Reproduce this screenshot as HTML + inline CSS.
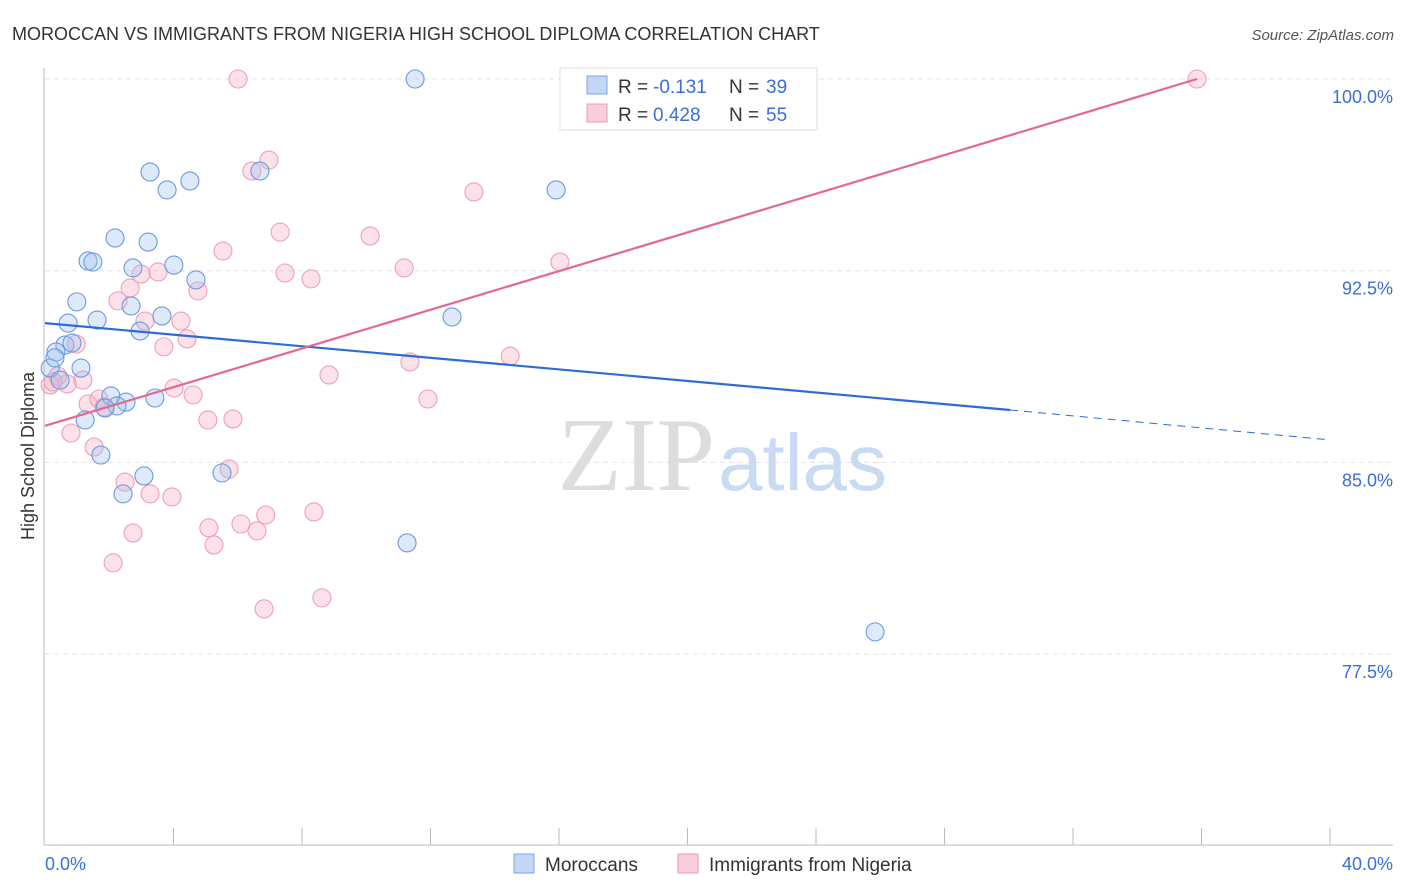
<!DOCTYPE html>
<html><head><meta charset="utf-8"><style>
body{margin:0;background:#fff;font-family:"Liberation Sans",sans-serif;}
svg{display:block}
</style></head><body>
<svg width="1406" height="892">
<text x="12" y="40" font-size="18" fill="#333">MOROCCAN VS IMMIGRANTS FROM NIGERIA HIGH SCHOOL DIPLOMA CORRELATION CHART</text>
<text x="1394" y="40" font-size="15" fill="#555" font-style="italic" text-anchor="end">Source: ZipAtlas.com</text>
<g id="grid"></g>
<text x="715" y="490" font-size="105" fill="#ddd" text-anchor="end" font-family="Liberation Serif">ZIP</text>
<text x="718" y="490" font-size="80" fill="#c9daf3">atlas</text>
<line x1="44" y1="68" x2="44" y2="845" stroke="#bbb"/>
<line x1="44" y1="845" x2="1393" y2="845" stroke="#bbb"/>
<text transform="translate(34,456) rotate(-90)" font-size="18" fill="#333" text-anchor="middle">High School Diploma</text>
<g id="ticks"></g>
<g id="pts"></g>
<g id="lines"></g>
<g>
<rect x="560" y="68" width="257" height="62" fill="#fff" stroke="#ddd"/>
<rect x="587" y="76" width="20" height="18" fill="#c3d7f5" stroke="#7aa6e6"/>
<text y="93" font-size="19" fill="#333"><tspan x="618">R =</tspan><tspan x="653" fill="#3a6fd8">-0.131</tspan><tspan x="729">N =</tspan><tspan x="766" fill="#3a6fd8">39</tspan></text>
<rect x="587" y="104" width="20" height="18" fill="#f9cdd9" stroke="#ec9ab3"/>
<text y="121" font-size="19" fill="#333"><tspan x="618">R =</tspan><tspan x="653" fill="#3a6fd8">0.428</tspan><tspan x="729">N =</tspan><tspan x="766" fill="#3a6fd8">55</tspan></text>
</g>
<g>
<rect x="514" y="854" width="20" height="19" fill="#c3d7f5" stroke="#7aa6e6"/>
<text x="545" y="871" font-size="19" fill="#333">Moroccans</text>
<rect x="678" y="854" width="20" height="19" fill="#f9cdd9" stroke="#ec9ab3"/>
<text x="709" y="871" font-size="19" fill="#333">Immigrants from Nigeria</text>
</g>
</svg>
<script>
const blueX=[11.52,3.27,4.51,3.80,6.69,15.91,2.18,3.21,1.34,1.49,2.74,4.01,4.70,0.99,2.68,1.62,0.72,3.64,2.96,12.67,0.62,0.84,0.34,1.12,0.16,2.05,2.52,2.24,3.42,1.25,1.74,3.08,2.43,5.51,11.27,25.84,0.47,0.31,1.87];
const blueY=[100,96.36,96.01,95.66,96.40,95.66,93.78,93.62,92.88,92.84,92.61,92.72,92.14,91.28,91.12,90.57,90.45,90.73,90.14,90.69,89.59,89.67,89.32,88.69,88.69,87.60,87.36,87.21,87.52,86.66,85.29,84.47,83.77,84.59,81.85,78.37,88.22,89.09,87.13];
const pinkX=[6.01,16.65,35.86,6.97,6.44,13.35,5.54,7.32,10.12,16.03,11.18,2.99,3.52,7.47,8.28,2.65,4.76,2.27,3.11,4.23,4.42,3.70,0.97,14.48,11.36,8.84,0.40,1.18,0.69,0.16,4.02,4.61,11.92,1.34,1.84,1.68,0.81,5.07,5.85,1.53,5.73,2.49,3.27,3.95,5.10,6.10,6.87,8.37,6.60,2.74,5.26,2.12,6.82,8.62,0.25];
const pinkY=[100,100,100,96.83,96.40,95.58,93.27,94.01,93.86,92.84,92.61,92.37,92.45,92.41,92.18,91.82,91.71,91.32,90.53,90.53,89.83,89.52,89.63,89.16,88.93,88.42,88.38,88.22,88.07,88.03,87.91,87.64,87.48,87.29,87.17,87.48,86.15,86.66,86.70,85.60,84.74,84.23,83.77,83.65,82.44,82.59,82.94,83.06,82.32,82.24,81.77,81.07,79.27,79.70,88.15];
const yTicks=[100,92.5,85,77.5];
const yTickLabels=["100.0%","92.5%","85.0%","77.5%"];
const xTicks=[0,4,8,12,16,20,24,28,32,36,40];
const blueTrend=[[0,90.45],[30.04,87.05],[40,85.88]];
const pinkTrend=[[0,86.43],[35.86,100]];
const NS='http://www.w3.org/2000/svg';
const sx=v=>45+v*1285/40, sy=v=>79+(100-v)*191.7/7.5;
function mk(tag,attrs,parent){const e=document.createElementNS(NS,tag);for(const k in attrs)e.setAttribute(k,attrs[k]);document.getElementById(parent).appendChild(e);return e;}
yTicks.forEach((t,i)=>{
 const g=mk('line',{x1:45,x2:1393,y1:sy(t),y2:sy(t),stroke:'#e3e3e3','stroke-dasharray':'5,4'},'grid');
 
 
 const l=mk('text',{x:1393,y:sy(t)+24,'font-size':18,fill:'#3a6fd8','text-anchor':'end'},'ticks');
 l.textContent=yTickLabels[i];
 
 
});
xTicks.forEach((t,i)=>{
 if(i>0){const tk=mk('line',{x1:sx(t),x2:sx(t),y1:828,y2:845,stroke:'#bbb'},'ticks');
 
 }
});
const xl0=mk('text',{x:45,y:870,'font-size':18,fill:'#3a6fd8'},'ticks');xl0.textContent='0.0%';


const xl1=mk('text',{x:1393,y:870,'font-size':18,fill:'#3a6fd8','text-anchor':'end'},'ticks');xl1.textContent='40.0%';


pinkX.forEach((x,i)=>{const c=mk('circle',{cx:sx(x),cy:sy(pinkY[i]),r:9,fill:'rgba(246,170,192,0.35)',stroke:'#eda0b8','stroke-width':1.1},'pts');
 
 });
blueX.forEach((x,i)=>{const c=mk('circle',{cx:sx(x),cy:sy(blueY[i]),r:9,fill:'rgba(160,195,240,0.35)',stroke:'#6a9ae0','stroke-width':1.1},'pts');
 
 });
const b1=mk('line',{x1:sx(blueTrend[0][0]),y1:sy(blueTrend[0][1]),x2:sx(blueTrend[1][0]),y2:sy(blueTrend[1][1]),stroke:'#2b6cd6','stroke-width':2.2},'lines');


const b2=mk('line',{x1:sx(blueTrend[1][0]),y1:sy(blueTrend[1][1]),x2:sx(blueTrend[2][0]),y2:sy(blueTrend[2][1]),stroke:'#2b6cd6','stroke-width':1,'stroke-dasharray':'8,6'},'lines');


const p1=mk('line',{x1:sx(pinkTrend[0][0]),y1:sy(pinkTrend[0][1]),x2:sx(pinkTrend[1][0]),y2:sy(pinkTrend[1][1]),stroke:'#e4688f','stroke-width':2.2},'lines');


</script>
</body></html>
